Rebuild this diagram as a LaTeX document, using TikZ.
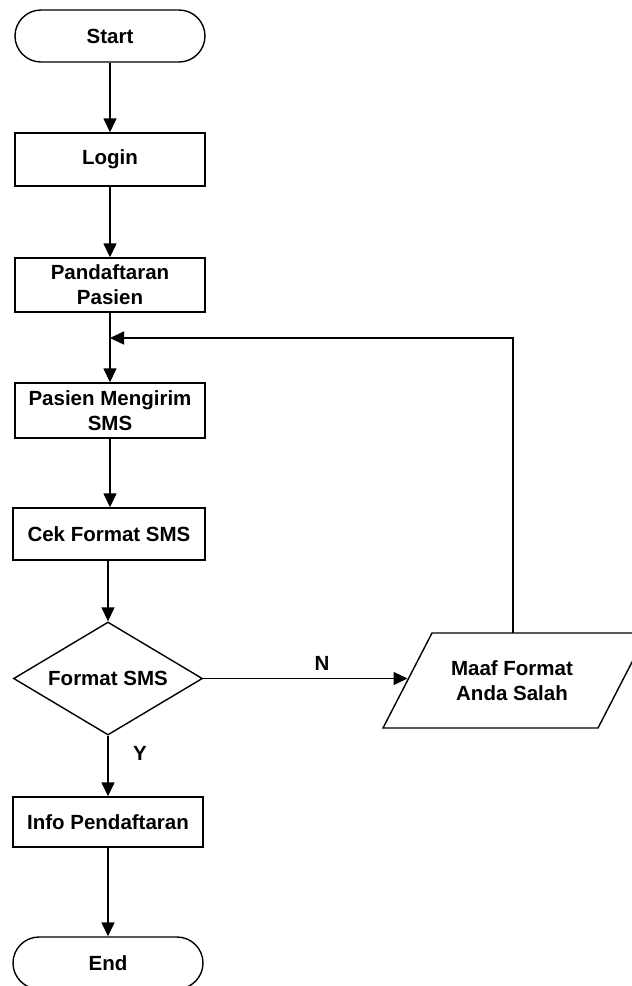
\documentclass[tikz,border=0pt]{standalone}
\usepackage{fontspec}
\setmainfont{Liberation Sans}
\usetikzlibrary{shapes.geometric,arrows.meta}
\begin{document}
\begin{tikzpicture}[x=1pt,y=1pt,
  every node/.style={font=\fontsize{20.5}{25}\selectfont\bfseries, align=center, inner sep=0pt},
  term/.style={draw, line width=1.4pt, rounded corners=26pt, minimum width=190pt, minimum height=52pt},
  proc/.style={draw, line width=1.4pt, minimum width=190pt},
  decide/.style={draw, line width=1.4pt, diamond, aspect=1.67, minimum width=189pt, minimum height=113pt},
  flow/.style={line width=1.4pt, -{Triangle[length=14pt,width=13pt]}},
  link/.style={line width=1.4pt},
  lbl/.style={font=\fontsize{20.5}{24}\selectfont\bfseries}]
\useasboundingbox (0,0) rectangle (632,-986);
\clip (0,0) rectangle (632,-986);

% main column
\node[term] (start) at (110,-36) {Start};
\node[proc, minimum height=53pt] (login) at (110,-159.5) {Login};
\node[proc, minimum height=54pt] (daftar) at (110,-285) {Pandaftaran\\Pasien};
\node[proc, minimum height=55pt] (kirim) at (110,-410.5) {Pasien Mengirim\\SMS};
\node[proc, minimum height=52pt, minimum width=192pt] (cek) at (109,-534) {Cek Format SMS};
\node[decide] (cekfmt) at (108,-678.5) {Format SMS};
\node[proc, minimum height=50pt] (info) at (108,-822) {Info Pendaftaran};
\node[term] (end) at (108,-963) {End};

% error output (parallelogram)
\node (maaf) at (512,-681) {Maaf Format\\Anda Salah};
\coordinate (pbl) at (383,-728);
\coordinate (ptl) at (432,-633);
\coordinate (ptr) at (647,-633);
\coordinate (pbr) at (598,-728);
\draw[link] (pbl) -- (ptl) -- (ptr) -- (pbr) -- cycle;
\coordinate (maafin) at (407.5,-678.5);
\coordinate (maafout) at (513,-633);
\coordinate (loopcorner) at (513,-338);
\coordinate (loopjoin) at (110,-338);

% connectors
\draw[flow] (start.south) -- (login.north);
\draw[flow] (login.south) -- (daftar.north);
\draw[flow] (daftar.south) -- (kirim.north);
\draw[flow] (kirim.south) -- (kirim.south |- cek.north);
\draw[flow] (cekfmt.north |- cek.south) -- (cekfmt.north);
\draw[flow] (cekfmt.south) -- (info.north);
\draw[flow] (info.south) -- (end.north);
\draw[flow] (cekfmt.east) -- (maafin);
\draw[flow] (maafout) -- (loopcorner) -- (loopjoin);

% branch labels
\node[lbl] (nlbl) at (322,-663) {N};
\node[lbl] (ylbl) at (140,-753) {Y};
\end{tikzpicture}
\end{document}
